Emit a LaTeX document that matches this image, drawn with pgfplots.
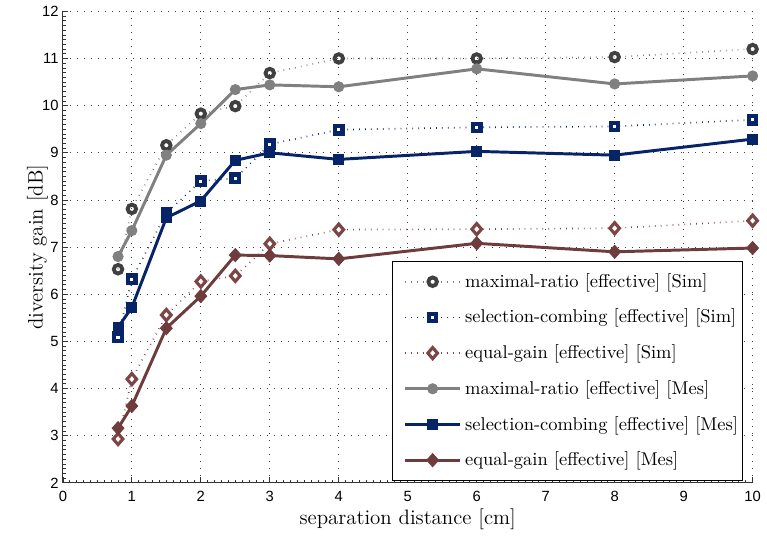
\documentclass[border=0pt]{standalone}
\usepackage{pgfplots}
\pgfplotsset{compat=1.18}
\usepackage{fontspec}
\newfontfamily\tickfont{Liberation Sans}
\definecolor{mrmes}{RGB}{128,128,128}
\definecolor{mrsim}{RGB}{64,64,64}
\definecolor{navy}{RGB}{8,36,104}
\definecolor{egmes}{RGB}{110,60,60}
\definecolor{egsim}{RGB}{125,70,70}
\newcommand{\legtxt}[1]{\makebox[142pt][l]{#1}}
\begin{document}
\begin{tikzpicture}
\begin{axis}[
  scale only axis,
  width=373pt, height=255pt,
  xmin=0, xmax=10, ymin=2, ymax=12,
  xtick={0,1,...,10}, ytick={2,3,...,12},
  minor x tick num=9, minor y tick num=9,
  axis x line*=bottom, axis y line*=left,
  axis line style={black!80, line width=0.5pt},
  tick align=inside,
  major tick length=3pt, minor tick length=1.5pt,
  tick style={black!80, line width=0.4pt},
  grid=major,
  major grid style={black!75, line width=0.45pt, dash pattern=on 0.5pt off 3.3pt},
  /pgf/number format/assume math mode=true,
  ticklabel style={font=\tickfont\fontsize{8}{10}\selectfont},
  xticklabel style={yshift=-1pt},
  yticklabel style={xshift=1.2pt},
  xlabel={separation distance [cm]},
  ylabel={diversity gain [dB]},
  label style={font=\fontsize{11.3}{13.5}\selectfont},
  xlabel style={yshift=3pt},
  ylabel style={yshift=-10pt},
  legend style={at={(rel axis cs:0.986,0.004)}, anchor=south east,
    draw=black, line width=0.5pt, font=\fontsize{10}{12}\selectfont,
    row sep=6.3pt, inner xsep=6pt, inner ysep=4.5pt},
  legend cell align=left,
  legend image code/.code={\draw[mark repeat=2,mark phase=2] plot coordinates {(5.5pt,0pt)(20.25pt,0pt)(35pt,0pt)};},
]
% Sim curves
\addplot[draw=mrmes, line width=0.9pt, dash pattern=on 0.4pt off 2.8pt,
  mark=o, mark size=2.3pt, mark options={solid, draw=mrsim, line width=2.1pt}]
  coordinates {(0.8,6.53)(1,7.81)(1.5,9.16)(2,9.83)(2.5,9.99)(3,10.69)(4,11.0)(6,11.0)(8,11.03)(10,11.2)};
\addlegendentry{\legtxt{maximal-ratio [effective] [Sim]}}
\addplot[draw=navy, line width=0.9pt, dash pattern=on 0.4pt off 2.8pt,
  mark=square*, mark size=2pt, mark options={solid, draw=navy, fill=white, line width=2.3pt}]
  coordinates {(0.8,5.09)(1,6.32)(1.5,7.72)(2,8.4)(2.5,8.46)(3,9.18)(4,9.49)(6,9.54)(8,9.56)(10,9.7)};
\addlegendentry{\legtxt{selection-combing [effective] [Sim]}}
\addplot[draw=egsim, line width=0.9pt, dash pattern=on 0.4pt off 2.8pt,
  mark=diamond*, mark size=3pt, mark options={solid, draw=egsim, fill=white, line width=1.7pt, xscale=1.15}]
  coordinates {(0.8,2.93)(1,4.2)(1.5,5.56)(2,6.27)(2.5,6.39)(3,7.07)(4,7.37)(6,7.38)(8,7.4)(10,7.56)};
\addlegendentry{\legtxt{equal-gain [effective] [Sim]}}
% Measured curves
\addplot[color=mrmes, line width=1.6pt, mark=*, mark size=2.8pt, mark options={solid, fill=mrmes, draw=mrmes, line width=0.4pt}]
  coordinates {(0.8,6.8)(1,7.35)(1.5,8.95)(2,9.62)(2.5,10.34)(3,10.44)(4,10.4)(6,10.78)(8,10.46)(10,10.63)};
\addlegendentry{\legtxt{maximal-ratio [effective] [Mes]}}
\addplot[color=navy, line width=1.6pt, mark=square*, mark size=2.7pt, mark options={solid, fill=navy, draw=navy, line width=0.4pt}]
  coordinates {(0.8,5.3)(1,5.72)(1.5,7.62)(2,7.98)(2.5,8.84)(3,9.0)(4,8.86)(6,9.03)(8,8.95)(10,9.29)};
\addlegendentry{\legtxt{selection-combing [effective] [Mes]}}
\addplot[color=egmes, line width=1.6pt, mark=diamond*, mark size=3.6pt, mark options={solid, fill=egmes, draw=egmes, line width=0.4pt, xscale=1.2}]
  coordinates {(0.8,3.16)(1,3.63)(1.5,5.28)(2,5.96)(2.5,6.83)(3,6.82)(4,6.75)(6,7.08)(8,6.9)(10,6.98)};
\addlegendentry{\legtxt{equal-gain [effective] [Mes]}}
\end{axis}
\path (current axis.south west) ++(-34pt,0pt);
\end{tikzpicture}
\end{document}
